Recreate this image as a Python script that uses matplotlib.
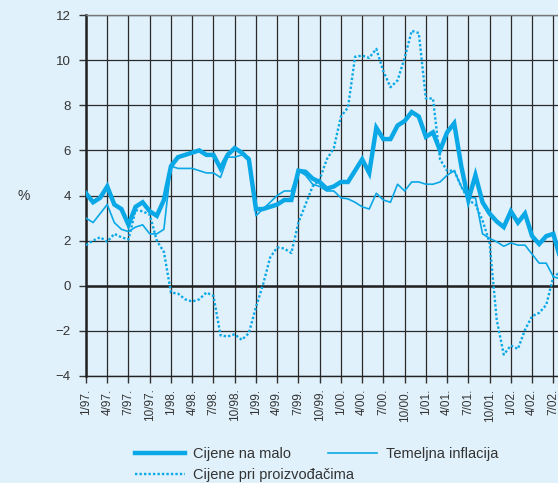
import matplotlib.pyplot as plt
import numpy as np
from matplotlib.lines import Line2D

plt.rcParams['font.family'] = ['Liberation Sans', 'DejaVu Sans']

# monthly values, 1/97. to 8/02.
retail = [4.1, 3.7, 3.9, 4.4, 3.6, 3.4, 2.7, 3.5, 3.7, 3.3, 3.1, 3.8,
          5.3, 5.7, 5.8, 5.9, 6.0, 5.8, 5.8, 5.2, 5.8, 6.1, 5.9, 5.6,
          3.4, 3.4, 3.5, 3.6, 3.8, 3.8, 5.1, 5.05, 4.75, 4.6, 4.3, 4.4,
          4.6, 4.6, 5.1, 5.6, 5.0, 7.0, 6.5, 6.5, 7.1, 7.3, 7.7, 7.5,
          6.6, 6.8, 6.0, 6.8, 7.2, 5.3, 3.8, 4.9, 3.7, 3.2, 2.85, 2.6,
          3.3, 2.8, 3.2, 2.2, 1.85, 2.2, 2.3, 1.2]
core = [3.0, 2.8, 3.2, 3.6, 2.8, 2.5, 2.4, 2.6, 2.7, 2.3, 2.3, 2.5,
        5.3, 5.2, 5.2, 5.2, 5.1, 5.0, 5.0, 4.8, 5.7, 5.7, 5.8, 5.7,
        3.1, 3.4, 3.7, 4.0, 4.2, 4.2, 5.1, 4.9, 4.5, 4.4, 4.2, 4.2,
        3.9, 3.85, 3.7, 3.5, 3.4, 4.1, 3.8, 3.7, 4.5, 4.2, 4.6, 4.6,
        4.5, 4.5, 4.6, 4.9, 5.1, 4.4, 3.9, 3.9, 2.3, 2.1, 1.95, 1.75,
        1.9, 1.8, 1.8, 1.4, 1.0, 1.0, 0.4, 0.3]
producer = [1.8, 2.0, 2.15, 1.95, 2.3, 2.15, 2.05, 3.35, 3.3, 3.15, 2.0, 1.5,
            -0.3, -0.35, -0.6, -0.7, -0.6, -0.3, -0.45, -2.2, -2.25, -2.15, -2.4, -2.1,
            -0.95, 0.05, 1.25, 1.7, 1.65, 1.45, 2.8, 3.6, 4.4, 4.7, 5.6, 6.1,
            7.5, 7.9, 10.15, 10.2, 10.1, 10.5, 9.5, 8.8, 9.1, 10.1, 11.3, 11.2,
            8.3, 8.3, 5.6, 5.1, 5.1, 4.4, 3.8, 3.6, 2.9, 1.9, -1.5, -3.05,
            -2.65, -2.8, -1.95, -1.35, -1.2, -0.85, 0.4, 0.6]
tick_labels = ['1/97.', '4/97.', '7/97.', '10/97.', '1/98.', '4/98.', '7/98.', '10/98.',
               '1/99.', '4/99.', '7/99.', '10/99.', '1/00.', '4/00.', '7/00.', '10/00.',
               '1/01.', '4/01.', '7/01.', '10/01.', '1/02.', '4/02.', '7/02.']
names = ['Cijene na malo', 'Temeljna inflacija', 'Cijene pri proizvođačima']

bg = '#e0f1fb'
blue = '#0aa8e6'
dark = '#333333'

fig = plt.figure(figsize=(5.58, 4.83), dpi=100, facecolor=bg)
ax = fig.add_axes([86/558, 1-376/483, 472/558, 361/483], facecolor=bg)

x = np.arange(len(retail))
ax.plot(x, producer, color=blue, lw=1.7, ls=(0, (1, 0.9)), zorder=3)
ax.plot(x, core, color=blue, lw=1.2, zorder=4)
ax.plot(x, retail, color=blue, lw=3.2, zorder=5, solid_joinstyle='miter')

ax.set_xlim(0, 66.66)
ax.set_ylim(-4, 12)
ax.set_yticks(range(-4, 13, 2))
ax.set_yticklabels(['\u22124', '\u22122', '0', '2', '4', '6', '8', '10', '12'])
ax.set_xticks(np.arange(0, 67, 3))
ax.set_xticklabels(tick_labels, rotation=90)

ax.grid(True, color='#2a2a2a', lw=0.9)
ax.axhline(0, color='#222222', lw=1.8, zorder=2)
ax.spines['right'].set_visible(False)
ax.spines['top'].set_color('#777777')
ax.spines['top'].set_linewidth(1.0)
ax.spines['bottom'].set_color('#222222')
ax.spines['bottom'].set_linewidth(1.0)
ax.spines['left'].set_color('#222222')
ax.spines['left'].set_linewidth(1.8)
ax.tick_params(axis='both', colors=dark, labelcolor=dark, width=1.0, length=5)
ax.tick_params(axis='y', labelsize=9.5, pad=6)
ax.tick_params(axis='x', labelsize=8.5, pad=4)

fig.text(18/558, 1-196/483, '%', fontsize=10, color=dark, ha='left', va='center')

h1 = Line2D([], [], color=blue, lw=3.2)
h2 = Line2D([], [], color=blue, lw=1.2)
h3 = Line2D([], [], color=blue, lw=1.7, ls=(0, (1, 0.9)))
fig.legend([h1, h2], names[:2], loc='center left', bbox_to_anchor=(135/558, 1-454/483),
           ncol=2, frameon=False, fontsize=10.5, handlelength=3.4, handletextpad=0.6,
           columnspacing=2.5, labelcolor=dark, borderaxespad=0, borderpad=0)
fig.legend([h3], names[2:], loc='center left', bbox_to_anchor=(135/558, 1-475/483),
           frameon=False, fontsize=10.5, handlelength=3.4, handletextpad=0.6,
           labelcolor=dark, borderaxespad=0, borderpad=0)

fig.savefig('out.png', dpi=100, facecolor=bg)
